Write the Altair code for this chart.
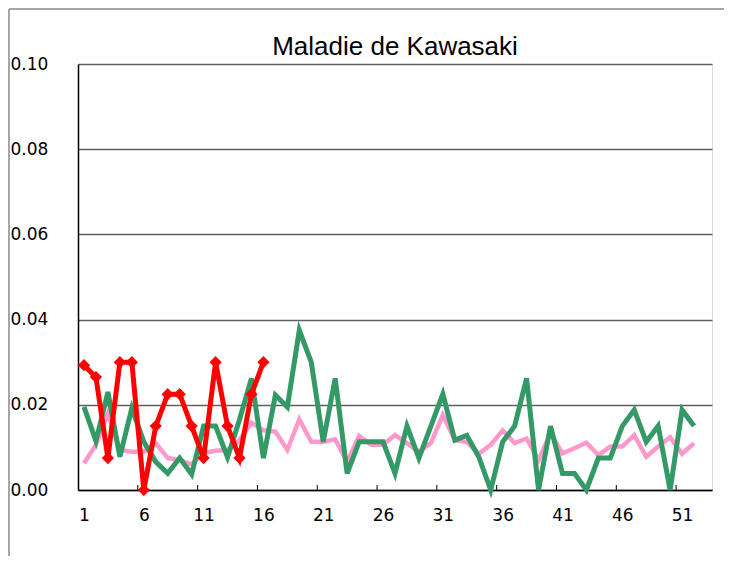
import altair as alt
import pandas as pd

# ---- data ----
weeks = list(range(1, 53))
average = [0.0063, 0.0106, 0.018, 0.0094, 0.009, 0.009, 0.011, 0.0075, 0.007, 0.006,
           0.0087, 0.0092, 0.0094, 0.0117, 0.0158, 0.014, 0.0137, 0.0094, 0.0166, 0.0113,
           0.0113, 0.0119, 0.0066, 0.0127, 0.0106, 0.0106, 0.0129, 0.011, 0.009, 0.011,
           0.0176, 0.0117, 0.0113, 0.0085, 0.0106, 0.014, 0.011, 0.0121, 0.007, 0.0133,
           0.0086, 0.0098, 0.0111, 0.0082, 0.0102, 0.0102, 0.0129, 0.0078, 0.0102, 0.0124,
           0.0085, 0.011]
last_year = [0.0195, 0.0115, 0.023, 0.0078, 0.0192, 0.0113, 0.0066, 0.0039, 0.0075, 0.0037,
             0.015, 0.015, 0.0077, 0.0165, 0.0262, 0.0075, 0.0223, 0.0195, 0.0375, 0.030,
             0.0113, 0.0262, 0.0039, 0.0113, 0.0113, 0.0113, 0.0039, 0.015, 0.0075, 0.015,
             0.0225, 0.0117, 0.0128, 0.0078, 0.0, 0.0113, 0.015, 0.0262, 0.0, 0.015,
             0.0039, 0.0039, 0.0, 0.0075, 0.0075, 0.015, 0.0188, 0.0113, 0.015, 0.0,
             0.0188, 0.015]
this_weeks = list(range(1, 17))
this_year = [0.0293, 0.0265, 0.0075, 0.030, 0.030, 0.0, 0.015, 0.0225, 0.0225, 0.015,
             0.0075, 0.030, 0.015, 0.0075, 0.0225, 0.030]
x_labels = [1, 6, 11, 16, 21, 26, 31, 36, 41, 46, 51]
x_tick_marks = [5.5, 10.5, 15.5, 20.5, 25.5, 30.5, 35.5, 40.5, 45.5, 50.5]
y_ticks = [0.0, 0.02, 0.04, 0.06, 0.08, 0.10]
title_text = "Maladie de Kawasaki"

W, H = 634, 426
FONT = "DejaVu Sans"

xscale = alt.Scale(domain=[0.5, 53.5], nice=False, zero=False)
yscale = alt.Scale(domain=[0, 0.1], nice=False, zero=True)

df_avg = pd.DataFrame({"week": weeks, "value": average})
df_last = pd.DataFrame({"week": weeks, "value": last_year})
df_this = pd.DataFrame({"week": this_weeks, "value": this_year})
df_ticks = pd.DataFrame({"pos": x_tick_marks})
df_one = pd.DataFrame({"a": [0]})
df_title = pd.DataFrame({"t": [title_text]})

x_enc = alt.X("week:Q", scale=xscale,
              axis=alt.Axis(values=x_labels, ticks=False, grid=False, domainColor="black",
                            domainWidth=1.5, labelFontSize=17, labelPadding=17, labelFont=FONT,
                            labelColor="black", labelFlush=False, title=None, labelBaseline="top"))
y_enc = alt.Y("value:Q", scale=yscale,
              axis=alt.Axis(values=y_ticks, format=".2f", ticks=False, grid=True,
                            gridColor="#606060", gridWidth=1.3, domainColor="black",
                            domainWidth=1.5, labelAlign="left", labelPadding=68,
                            labelBaseline="middle", labelFontSize=17, labelFont=FONT,
                            labelColor="black", labelFlush=False, title=None))

tick_layer = alt.Chart(df_ticks).mark_rule(color="black", strokeWidth=1).encode(
    x=alt.X("pos:Q", scale=xscale), y=alt.value(H - 5), y2=alt.value(H))

pink = alt.Chart(df_avg).mark_line(color="#FF99CC", strokeWidth=4.5).encode(x=x_enc, y=y_enc)
green = alt.Chart(df_last).mark_line(color="#339966", strokeWidth=5).encode(
    x=alt.X("week:Q", scale=xscale), y=alt.Y("value:Q", scale=yscale))
red = alt.Chart(df_this).mark_line(
    color="#FF0000", strokeWidth=5,
    point=alt.OverlayMarkDef(shape="diamond", size=150, color="#FF0000", filled=True)
).encode(x=alt.X("week:Q", scale=xscale), y=alt.Y("value:Q", scale=yscale))

frame_top = alt.Chart(df_one).mark_rule(color="#888888", strokeWidth=1.5).encode(
    x=alt.value(-69), x2=alt.value(W + 20), y=alt.value(-55))
frame_left = alt.Chart(df_one).mark_rule(color="#888888", strokeWidth=1.5).encode(
    x=alt.value(-69), y=alt.value(-55), y2=alt.value(H + 80))

title_layer = alt.Chart(df_title).mark_text(
    fontSize=26, font="Liberation Sans", fontWeight="normal", color="black",
    align="center", baseline="alphabetic"
).encode(text="t:N", x=alt.value(W / 2), y=alt.value(-9))

chart = alt.layer(pink, tick_layer, green, red, frame_top, frame_left, title_layer).properties(
    width=W, height=H,
    autosize=alt.AutoSizeParams(type="none"),
    padding={"left": 70, "top": 56, "right": 12, "bottom": 66},
).configure_view(stroke="#888888", strokeWidth=2.5).configure(background="white")

chart.save("out.html", embed_options={"renderer": "svg", "actions": False})
